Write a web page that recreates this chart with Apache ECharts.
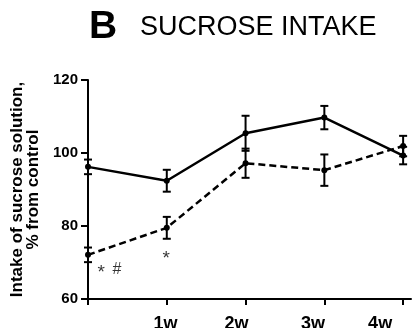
<!DOCTYPE html>
<html><head><meta charset="utf-8">
<script src="https://cdn.jsdelivr.net/npm/echarts@6/dist/echarts.min.js"></script>
<style>html,body{margin:0;padding:0;background:#fff}#c{width:413px;height:328px}</style>
</head><body><div id="c"></div>
<script>
var weekPos = [0, 1, 2, 3, 4];
var tickLabels = ['', '1w', '2w', '3w', '4w'];
var controlMean = [96.2, 92.4, 105.4, 109.7, 99.3];
var controlErr = [2.0, 3.0, 4.8, 3.2, 2.4];
var stressMean = [72.1, 79.5, 97.2, 95.3, 101.9];
var stressErr = [2.0, 3.0, 4.0, 4.3, 2.8];
var annoX = [0.169, 0.368, 0.994];
var annoY = [67.2, 68.0, 70.9];
var annoText = ['*', '#', '*'];

// layout: leftward shift (px) of each x tick label relative to its tick, as in the original figure
var LABEL_SHIFT = [0, 1.2, 9, 11.3, 23];
var FONT = "'Liberation Sans', Arial, Helvetica, sans-serif";
function pairs(xs, ys) { return xs.map(function (x, i) { return [x, ys[i]]; }); }
function errData(xs, m, e) { return xs.map(function (x, i) { return [x, m[i] - e[i], m[i] + e[i]]; }); }
function errSeries(data) {
  return {
    type: 'custom', data: data, z: 3, silent: true,
    renderItem: function (params, api) {
      var lo = api.coord([api.value(0), api.value(1)]);
      var hi = api.coord([api.value(0), api.value(2)]);
      var w = 4;
      var st = { stroke: '#000', lineWidth: 2 };
      return { type: 'group', children: [
        { type: 'line', shape: { x1: lo[0], y1: lo[1], x2: hi[0], y2: hi[1] }, style: st },
        { type: 'line', shape: { x1: lo[0] - w, y1: lo[1], x2: lo[0] + w, y2: lo[1] }, style: st },
        { type: 'line', shape: { x1: hi[0] - w, y1: hi[1], x2: hi[0] + w, y2: hi[1] }, style: st }
      ]};
    }
  };
}
var rich = {};
LABEL_SHIFT.forEach(function (s, i) {
  rich['l' + i] = { fontFamily: FONT, fontWeight: 'bold', fontSize: 18, color: '#000', padding: [0, 2 * s, 0, 0] };
});
var chart = echarts.init(document.getElementById('c'), null, { renderer: 'canvas' });
chart.setOption({
  animation: false,
  backgroundColor: '#fff',
  title: [
    { text: 'B', left: 89, top: 8, padding: 0,
      textStyle: { fontFamily: FONT, fontWeight: 'bold', fontSize: 39, color: '#000' } },
    { text: 'SUCROSE INTAKE', left: 140, top: 14, padding: 0,
      textStyle: { fontFamily: FONT, fontWeight: 'normal', fontSize: 27, color: '#000' } }
  ],
  grid: { left: 88, right: 2, top: 80, bottom: 29, containLabel: false, outerBoundsMode: 'none' },
  xAxis: {
    type: 'value', min: 0, max: 4.1, interval: 1,
    axisLine: { show: true, lineStyle: { color: '#000', width: 2 } },
    axisTick: { show: true, length: 6, lineStyle: { color: '#000', width: 2 }, customValues: weekPos },
    axisLabel: { customValues: weekPos, color: '#000', fontFamily: FONT, fontWeight: 'bold', fontSize: 18, margin: 16,
      hideOverlap: false, rich: rich,
      formatter: function (v) {
        var i = Math.round(v);
        return tickLabels[i] ? '{l' + i + '|' + tickLabels[i] + '}' : '';
      } },
    splitLine: { show: false }
  },
  yAxis: {
    type: 'value', min: 60, max: 120, interval: 20,
    name: 'Intake of sucrose solution,\n% from control',
    nameLocation: 'middle', nameGap: 46, nameRotate: 90,
    nameTextStyle: { fontFamily: FONT, fontWeight: 'bold', fontSize: 17, color: '#000', lineHeight: 16 },
    axisLine: { show: true, lineStyle: { color: '#000', width: 2 } },
    axisTick: { show: true, length: 7, lineStyle: { color: '#000', width: 2 } },
    axisLabel: { color: '#000', fontFamily: FONT, fontWeight: 'bold', fontSize: 15, margin: 10 },
    splitLine: { show: false }
  },
  series: [
    { type: 'line', data: pairs(weekPos, controlMean), symbol: 'circle', symbolSize: 6, z: 4,
      lineStyle: { color: '#000', width: 2.5 }, itemStyle: { color: '#000' } },
    { type: 'line', data: pairs(weekPos, stressMean), symbol: 'circle', symbolSize: 6, z: 4,
      lineStyle: { color: '#000', width: 2.5, type: [7, 4] }, itemStyle: { color: '#000' } },
    errSeries(errData(weekPos, controlMean, controlErr)),
    errSeries(errData(weekPos, stressMean, stressErr)),
    { type: 'scatter', symbolSize: 0, silent: true, z: 5,
      data: annoX.map(function (x, i) {
        return { value: [x, annoY[i]], name: annoText[i],
          label: { fontSize: annoText[i] === '*' ? 19 : 16 } };
      }),
      label: { show: true, position: 'inside', formatter: '{b}', color: '#000', fontFamily: FONT, fontSize: 17 } }
  ]
});
</script></body></html>
